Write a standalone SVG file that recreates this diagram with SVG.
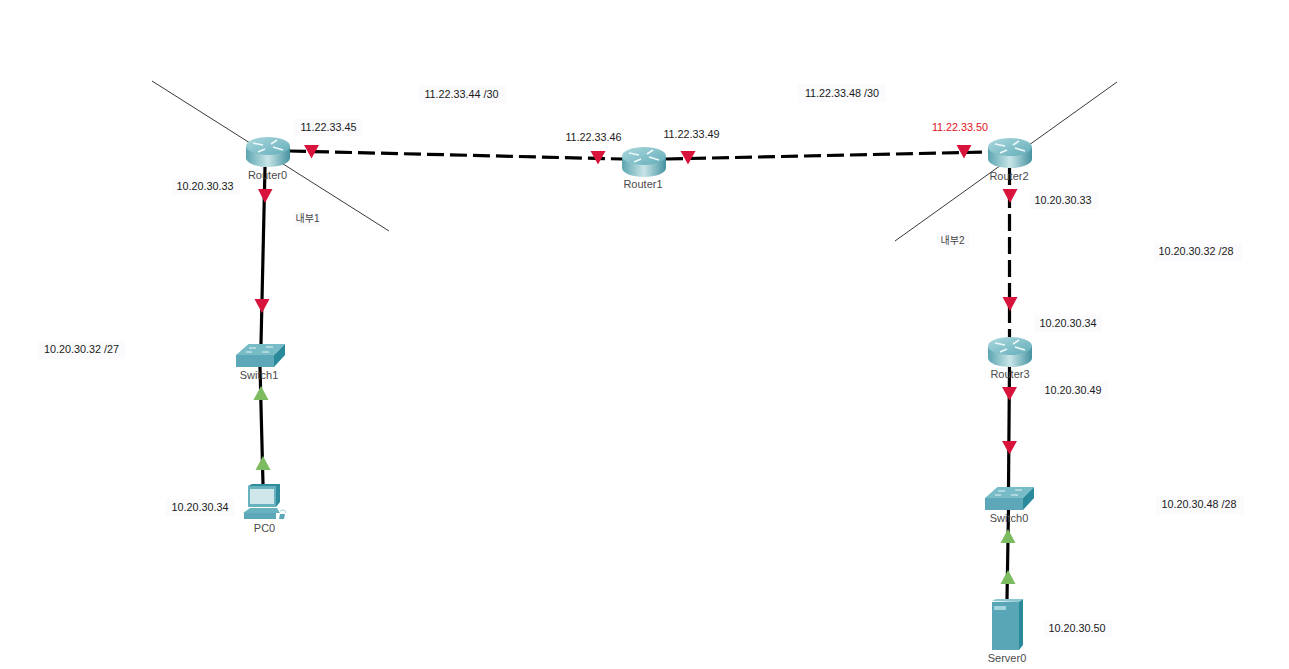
<svg xmlns="http://www.w3.org/2000/svg" width="1289" height="669" viewBox="0 0 1289 669">
<style>
text{font-family:"Liberation Sans","Noto Sans CJK KR",sans-serif}
.lb{font-size:10.8px;fill:#1a1a1a;text-anchor:middle}
.nm{font-size:11px;fill:#4a4a4a;text-anchor:middle}
.bg{fill:#fbfbfd}
.thin{stroke:#222;stroke-width:.9;fill:none}
.solid{stroke:#000;stroke-width:3.2;fill:none}
.dash{stroke:#000;stroke-width:3.2;fill:none;stroke-dasharray:17 6}
.red{fill:#d8143c}
.grn{fill:#7dbb60}
</style>
<defs>
<linearGradient id="rg" x1="0" x2="1" y1="0" y2="0">
<stop offset="0" stop-color="#5ba5b0"/><stop offset=".5" stop-color="#c8e5e8"/><stop offset="1" stop-color="#4592a0"/>
</linearGradient>
<linearGradient id="rt" x1="0" x2="1" y1="0" y2="1">
<stop offset="0" stop-color="#acd8de"/><stop offset="1" stop-color="#62adb9"/>
</linearGradient>
<g id="router">
<path d="M-22-6V6C-22 11-12 15 0 15S22 11 22 6V-6Z" fill="url(#rg)"/>
<ellipse cx="0" cy="-6" rx="22" ry="9" fill="url(#rt)"/>
<g stroke="#eef8fa" stroke-width="1.6" fill="none">
<path d="M-15-9 -5-7M-3-3 -10 0M3-8 9-12M5-5 15-2"/>
</g>
</g>
<g id="switch">
<path d="M0 11 12.500 0H49L38 11Z" fill="#78bcc8"/>
<path d="M0 11H38V23H0Z" fill="#5ca8b8"/>
<path d="M38 11 49 0V11L38 23Z" fill="#2a8a9b"/>
<path d="M13 4H20M30 3H37M10 8H16M26 8H33" stroke="#e6f3f5" stroke-width="1"/>
</g>
</defs>

<g id="connectors">
<path class="thin" d="M152 81 389 231"/>
<path class="thin" d="M1117 82 895 241"/>
<path class="dash" d="M289 151 622 159"/>
<path class="dash" d="M666 159 988 152"/>
<path class="solid" d="M265 167 261 344"/>
<path class="solid" d="M260 367 263 484"/>
<path class="dash" d="M1009.500 168V337"/>
<path class="solid" d="M1009.500 366 1008.500 487"/>
<path class="solid" d="M1008.500 509 1007 599"/>
<g id="arrows">
<path class="red" d="M304 145H319L311.500 158.500Z"/>
<path class="red" d="M590.500 151H605.500L598 164.500Z"/>
<path class="red" d="M680.500 151H695.500L688 164.500Z"/>
<path class="red" d="M956.500 145H971.500L964 158.500Z"/>
<path class="red" d="M258 189H272.500L265 203Z"/>
<path class="red" d="M254.500 299H269.500L262 313Z"/>
<path class="red" d="M1002.500 189H1017.500L1010 203Z"/>
<path class="red" d="M1002.500 297H1017.500L1010 311Z"/>
<path class="red" d="M1002 387H1017L1009.500 400.500Z"/>
<path class="red" d="M1002 441H1017L1009.500 454.500Z"/>
<path class="grn" d="M261 386 268.500 400H253.500Z"/>
<path class="grn" d="M263 456 270.500 470H255.500Z"/>
<path class="grn" d="M1008 529 1015.500 543H1000.500Z"/>
<path class="grn" d="M1008 570 1015.500 584H1000.500Z"/>
</g>
</g>

<g id="Router0"><use href="#router" x="268" y="152"/><text class="nm" x="267.500" y="179">Router0</text></g>
<g id="Router1"><use href="#router" x="644" y="162"/><text class="nm" x="643" y="188">Router1</text></g>
<g id="Router2"><use href="#router" x="1010" y="153"/><text class="nm" x="1009" y="180">Router2</text></g>
<g id="Router3"><use href="#router" x="1010" y="352"/><text class="nm" x="1010" y="378">Router3</text></g>
<g id="Switch1"><use href="#switch" x="236" y="344"/><text class="nm" x="259" y="379">Switch1</text></g>
<g id="Switch0"><use href="#switch" x="985" y="487"/><text class="nm" x="1009" y="522">Switch0</text></g>
<g id="PC0">
<path d="M248 486 252 484H280V502L276 507Z" fill="#2f8d9d"/>
<path d="M248 486H276V507H248Z" fill="#68b2bf"/>
<path d="M250 489H274V504H250Z" fill="#cfe7eb"/>
<path d="M250 508H277L280 513H243Z" fill="#68b2bf"/>
<path d="M244 513H276V519H244Z" fill="#5ca8b8"/>
<path d="M280 514H285L284 519H279Z" fill="#5ca8b8"/>
<path d="M280 511Q285 508 286 513" fill="none" stroke="#a8d0d6"/>
<text class="nm" x="264.500" y="532">PC0</text>
</g>
<g id="Server0">
<path d="M992 601 996 599H1023L1019 602Z" fill="#8cc6d0"/>
<path d="M992 602H1019V650H992Z" fill="#58a6b6"/>
<path d="M1019 602 1023 599V645L1019 650Z" fill="#2a8a9b"/>
<path d="M994 606H1006V610H994Z" fill="#a4d4dd"/>
<text class="nm" x="1007" y="662">Server0</text>
</g>

<g id="labels">
<rect class="bg" x="418" y="85" width="88" height="18"/>
<rect class="bg" x="798" y="84" width="88" height="18"/>
<rect class="bg" x="294" y="119" width="68" height="17"/>
<rect class="bg" x="172" y="178" width="68" height="17"/>
<rect class="bg" x="294" y="211" width="26" height="16"/>
<rect class="bg" x="38" y="341" width="88" height="18"/>
<rect class="bg" x="166" y="499" width="68" height="17"/>
<rect class="bg" x="1030" y="192" width="68" height="17"/>
<rect class="bg" x="937" y="232" width="32" height="16"/>
<rect class="bg" x="1154" y="243" width="88" height="18"/>
<rect class="bg" x="1034" y="315" width="68" height="17"/>
<rect class="bg" x="1040" y="382" width="68" height="17"/>
<rect class="bg" x="1156" y="496" width="88" height="18"/>
<rect class="bg" x="1044" y="620" width="68" height="17"/>
<text class="lb" x="461.500" y="98">11.22.33.44 /30</text>
<text class="lb" x="842" y="97">11.22.33.48 /30</text>
<text class="lb" x="328.500" y="131">11.22.33.45</text>
<text class="lb" x="593.500" y="141">11.22.33.46</text>
<text class="lb" x="691.500" y="138">11.22.33.49</text>
<text class="lb" x="960" y="131" style="fill:#e01020">11.22.33.50</text>
<text class="lb" x="205" y="190">10.20.30.33</text>
<text class="lb" x="307.500" y="222" style="font-size:10px;fill:#444">내부1</text>
<text class="lb" x="952.500" y="244" style="font-size:10px;fill:#444">내부2</text>
<text class="lb" x="1063" y="204">10.20.30.33</text>
<text class="lb" x="1196" y="255">10.20.30.32 /28</text>
<text class="lb" x="1068" y="327">10.20.30.34</text>
<text class="lb" x="1073" y="394">10.20.30.49</text>
<text class="lb" x="81.500" y="353">10.20.30.32 /27</text>
<text class="lb" x="200" y="511">10.20.30.34</text>
<text class="lb" x="1199" y="508">10.20.30.48 /28</text>
<text class="lb" x="1077" y="632">10.20.30.50</text>
</g>
</svg>
